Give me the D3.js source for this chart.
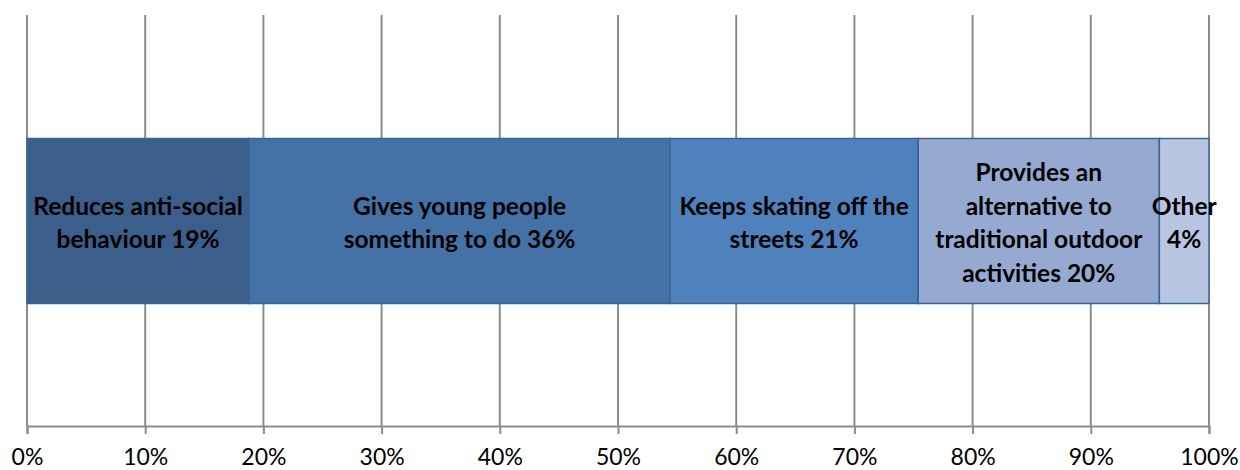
<!DOCTYPE html>
<html>
<head>
<meta charset="utf-8">
<script src="https://cdn.jsdelivr.net/npm/d3@7"></script>
<style>
  html, body { margin: 0; padding: 0; background: #fff; }
  svg { display: block; }
</style>
</head>
<body>
<svg id="chart" width="1240" height="470"></svg>
<script>
const categories = [
  "Reduces anti-social behaviour",
  "Gives young people something to do",
  "Keeps skating off the streets",
  "Provides an alternative to traditional outdoor activities",
  "Other"
];
const values = [18.8, 35.6, 21.0, 20.4, 4.2];
const labelLines = [
  ["Reduces anti-social", "behaviour 19%"],
  ["Gives young people", "something to do 36%"],
  ["Keeps skating off the", "streets 21%"],
  ["Provides an", "alternative to", "traditional outdoor", "activities 20%"],
  ["Other", "4%"]
];
const colors = ["#3b5e8b", "#4472a6", "#4f81bd", "#95a9d1", "#b9c6e1"];
const tickValues = [0, 10, 20, 30, 40, 50, 60, 70, 80, 90, 100];

(function () {
const svg = d3.select("#chart");
const mLeft = 27, mRight = 1209, mTop = 15, axisY = 426;
const barTop = 138.5, barBottom = 303.5;

const x = d3.scaleLinear().domain([0, 100]).range([mLeft, mRight]);

// gridlines
svg.append("g").selectAll("line").data(tickValues).join("line")
  .attr("x1", d => x(d)).attr("x2", d => x(d))
  .attr("y1", mTop).attr("y2", axisY)
  .attr("stroke", "#8c8c8c").attr("stroke-width", 2);

// axis
const axis = d3.axisBottom(x).tickValues(tickValues).tickSize(8).tickPadding(15)
  .tickFormat(d => d + "%");
const ag = svg.append("g").attr("transform", `translate(0,${axisY})`).call(axis);
ag.select(".domain").attr("stroke", "#8c8c8c").attr("stroke-width", 2);
ag.selectAll(".tick line").attr("stroke", "#8c8c8c").attr("stroke-width", 2);
ag.selectAll(".tick text")
  .attr("font-family", "Lato, 'Open Sans', sans-serif")
  .attr("font-size", 23).attr("fill", "#000");

// stacked bar
let acc = 0;
const segs = values.map((v, i) => { const s = { i, x0: acc, x1: acc + v }; acc += v; return s; });

svg.append("g").selectAll("rect").data(segs).join("rect")
  .attr("x", d => x(d.x0)).attr("width", d => x(d.x1) - x(d.x0))
  .attr("y", barTop).attr("height", barBottom - barTop)
  .attr("fill", d => colors[d.i])
  .attr("stroke", "#3b6496").attr("stroke-width", 1.5);

// labels
const lh = 33.5;
const cy = (barTop + barBottom) / 2 + 2;
const lg = svg.append("g");
segs.forEach(s => {
  const lines = labelLines[s.i];
  const cx = (x(s.x0) + x(s.x1)) / 2;
  const t = lg.append("text")
    .attr("text-anchor", "middle")
    .attr("font-family", "Lato, 'Open Sans', sans-serif")
    .attr("font-weight", "bold")
    .attr("font-size", 24.5)
    .attr("fill", "#000");
  lines.forEach((ln, k) => {
    t.append("tspan").attr("x", cx)
      .attr("y", cy + (k - (lines.length - 1) / 2) * lh)
      .attr("dy", "0.35em")
      .text(ln);
  });
});
})();
</script>
</body>
</html>
